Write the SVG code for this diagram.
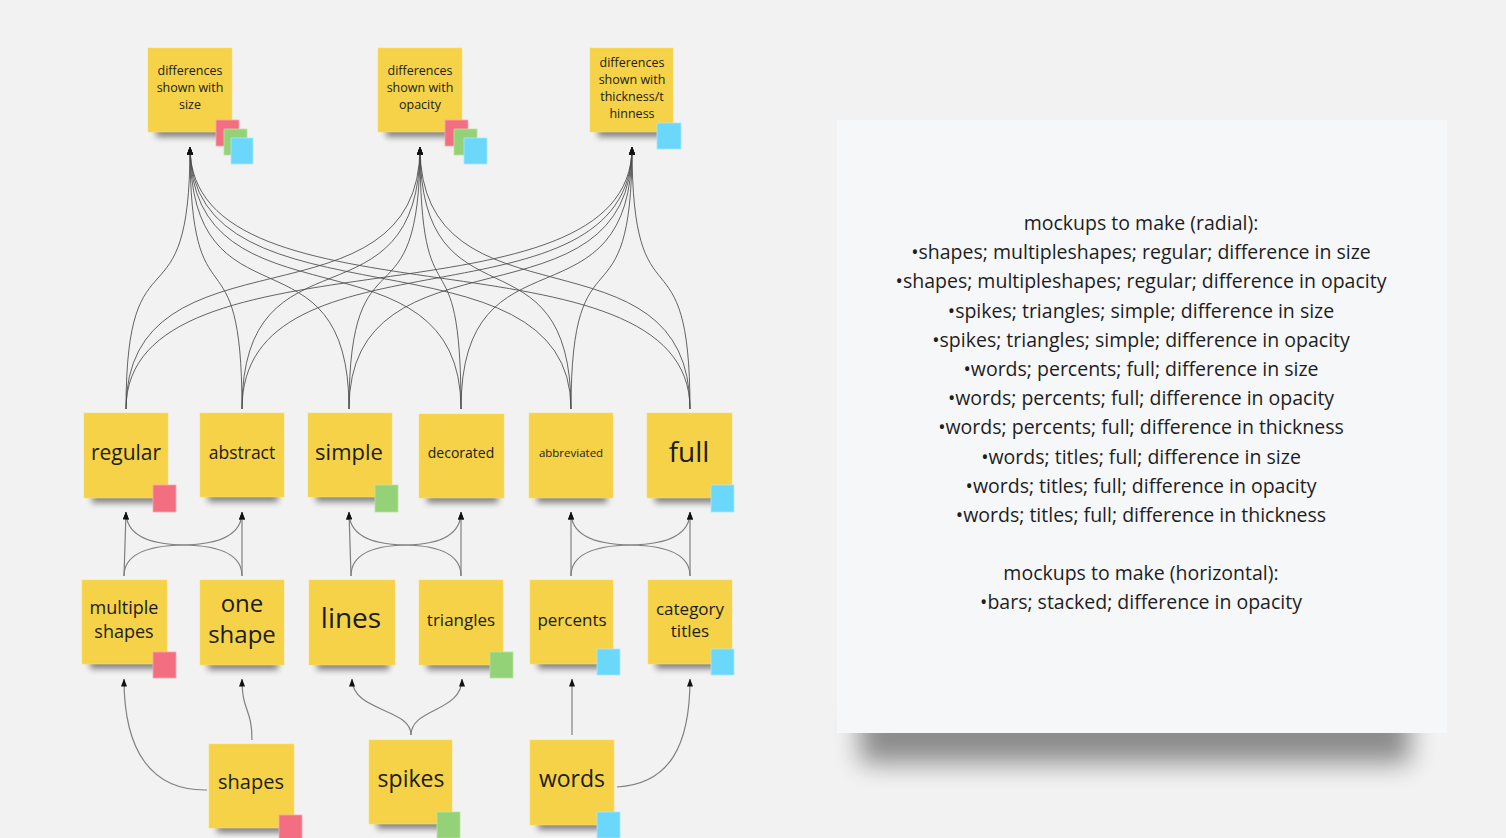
<svg xmlns="http://www.w3.org/2000/svg" width="1506" height="838" viewBox="0 0 1506 838">
<defs>
<style>
.note{fill:#f5d247;stroke:#f7dc6e;stroke-width:0.6}
.sh{fill:#000;opacity:0.45;filter:url(#blur)}
.t{font-family:"Open Sans","Noto Sans","DejaVu Sans",sans-serif;fill:#1c1c1c;text-anchor:middle}
.pink{fill:#f36e80;stroke:#f9a8b2;stroke-width:0.8}
.green{fill:#93d276;stroke:#b9e3a4;stroke-width:0.8}
.blue{fill:#6bd8fb;stroke:#a8e8fc;stroke-width:0.8}
.c1{fill:none;stroke:#4a4a4a;stroke-width:1;stroke-opacity:0.85}
.c2{fill:none;stroke:#808080;stroke-width:1.2}
.panel-t{font-family:"Open Sans","Noto Sans","DejaVu Sans",sans-serif;font-size:19.5px;fill:#1e1e1e;text-anchor:middle}
</style>
<filter id="blur" x="-20%" y="-50%" width="140%" height="200%"><feGaussianBlur stdDeviation="3"/></filter>
<filter id="pblur" x="-10%" y="-60%" width="120%" height="220%"><feGaussianBlur stdDeviation="13"/></filter>
<marker id="arr" markerUnits="userSpaceOnUse" markerWidth="8" markerHeight="6" refX="7.5" refY="3" orient="auto"><path d="M0,0 L8,3 L0,6 z" fill="#111"/></marker>
</defs>
<rect width="1506" height="838" fill="#f2f2f2"/>

<g id="connectors">
<g marker-end="url(#arr)" class="c1">
<path d="M126 409 C126 219,190 337,190 147"/>
<path d="M126 409 C126 219,420 337,420 147"/>
<path d="M126 409 C126 219,632 337,632 147"/>
<path d="M242 409 C242 219,190 337,190 147"/>
<path d="M242 409 C242 219,420 337,420 147"/>
<path d="M242 409 C242 219,632 337,632 147"/>
<path d="M349 409 C349 219,190 337,190 147"/>
<path d="M349 409 C349 219,420 337,420 147"/>
<path d="M349 409 C349 219,632 337,632 147"/>
<path d="M461 409 C461 219,190 337,190 147"/>
<path d="M461 409 C461 219,420 337,420 147"/>
<path d="M461 409 C461 219,632 337,632 147"/>
<path d="M571 409 C571 219,190 337,190 147"/>
<path d="M571 409 C571 219,420 337,420 147"/>
<path d="M571 409 C571 219,632 337,632 147"/>
<path d="M690 409 C690 219,190 337,190 147"/>
<path d="M690 409 C690 219,420 337,420 147"/>
<path d="M690 409 C690 219,632 337,632 147"/>
</g>
<g marker-end="url(#arr)" class="c2">
<path d="M124 576 L126 512"/>
<path d="M124 576 Q124 546 183 545 Q242 544 242 512"/>
<path d="M242 576 L242 512"/>
<path d="M242 576 Q242 546 184 545 Q126 544 126 512"/>
<path d="M351 576 L349 512"/>
<path d="M351 576 Q351 546 406 545 Q461 544 461 512"/>
<path d="M461 576 L461 512"/>
<path d="M461 576 Q461 546 405 545 Q349 544 349 512"/>
<path d="M571 576 L571 512"/>
<path d="M571 576 Q571 546 630.5 545 Q690 544 690 512"/>
<path d="M690 576 L690 512"/>
<path d="M690 576 Q690 546 630.5 545 Q571 544 571 512"/>
<path d="M207 790 C152 791,124 752,124 679"/>
<path d="M252 740 C252 708,242 712,242 679"/>
<path d="M411 735 C411 708,352 712,352 679"/>
<path d="M411 735 C411 708,462 712,462 679"/>
<path d="M572 735 L572 679"/>
<path d="M617 787 C670 784,690 745,690 679"/>
</g>
</g>

<g id="note-size">
<rect class="sh" x="156" y="120" width="70" height="17"/>
<rect class="note" x="148" y="48" width="84" height="84"/>
<text class="t" font-size="12.5" x="190" y="75">differences</text>
<text class="t" font-size="12.5" x="190" y="92">shown with</text>
<text class="t" font-size="12.5" x="190" y="109">size</text>
<rect class="pink" x="216" y="120" width="23" height="26"/>
<rect class="green" x="224" y="129" width="23" height="26"/>
<rect class="blue" x="231" y="138" width="22" height="26"/>
</g>
<g id="note-opacity">
<rect class="sh" x="386" y="120" width="70" height="17"/>
<rect class="note" x="378" y="48" width="84" height="84"/>
<text class="t" font-size="12.5" x="420" y="75">differences</text>
<text class="t" font-size="12.5" x="420" y="92">shown with</text>
<text class="t" font-size="12.5" x="420" y="109">opacity</text>
<rect class="pink" x="445" y="120" width="23" height="26"/>
<rect class="green" x="454" y="129" width="23" height="26"/>
<rect class="blue" x="464" y="138" width="23" height="26"/>
</g>
<g id="note-thickness">
<rect class="sh" x="598" y="120" width="70" height="17"/>
<rect class="note" x="590" y="48" width="83" height="84"/>
<text class="t" font-size="12.5" x="632" y="67">differences</text>
<text class="t" font-size="12.5" x="632" y="84">shown with</text>
<text class="t" font-size="12.5" x="632" y="101">thickness/t</text>
<text class="t" font-size="12.5" x="632" y="118">hinness</text>
<rect class="blue" x="657" y="123" width="24" height="26"/>
</g>

<g id="node-regular">
<rect class="sh" x="92" y="486" width="70" height="17"/>
<rect class="note" x="84" y="413" width="84" height="85"/>
<text class="t" font-size="21" x="126" y="460">regular</text>
<rect class="pink" x="153" y="485" width="23" height="27"/>
</g>
<g id="node-abstract">
<rect class="sh" x="208" y="485" width="70" height="17"/>
<rect class="note" x="200" y="413" width="84" height="84"/>
<text class="t" font-size="17.5" x="242" y="459">abstract</text>
</g>
<g id="node-simple">
<rect class="sh" x="316" y="485" width="70" height="17"/>
<rect class="note" x="308" y="413" width="84" height="84"/>
<text class="t" font-size="22" x="349" y="460">simple</text>
<rect class="green" x="375" y="485" width="23" height="27"/>
</g>
<g id="node-decorated">
<rect class="sh" x="427" y="486" width="71" height="17"/>
<rect class="note" x="419" y="414" width="85" height="84"/>
<text class="t" font-size="14" x="461" y="458">decorated</text>
</g>
<g id="node-abbreviated">
<rect class="sh" x="537" y="486" width="70" height="17"/>
<rect class="note" x="529" y="413" width="84" height="85"/>
<text class="t" font-size="11.5" x="571" y="457">abbreviated</text>
</g>
<g id="node-full">
<rect class="sh" x="655" y="486" width="71" height="17"/>
<rect class="note" x="647" y="413" width="85" height="85"/>
<text class="t" font-size="28" x="689" y="462">full</text>
<rect class="blue" x="711" y="485" width="23" height="27"/>
</g>

<g id="node-multiple-shapes">
<rect class="sh" x="90" y="652" width="71" height="17"/>
<rect class="note" x="82" y="580" width="85" height="84"/>
<text class="t" font-size="18" x="124" y="614">multiple</text>
<text class="t" font-size="18" x="124" y="638">shapes</text>
<rect class="pink" x="153" y="652" width="23" height="26"/>
</g>
<g id="node-one-shape">
<rect class="sh" x="208" y="653" width="70" height="17"/>
<rect class="note" x="200" y="580" width="84" height="85"/>
<text class="t" font-size="24" x="242" y="612">one</text>
<text class="t" font-size="24" x="242" y="643">shape</text>
</g>
<g id="node-lines">
<rect class="sh" x="317" y="653" width="72" height="17"/>
<rect class="note" x="309" y="580" width="86" height="85"/>
<text class="t" font-size="28" x="351" y="628">lines</text>
</g>
<g id="node-triangles">
<rect class="sh" x="427" y="653" width="70" height="17"/>
<rect class="note" x="419" y="580" width="84" height="85"/>
<text class="t" font-size="17" x="461" y="626">triangles</text>
<rect class="green" x="490" y="652" width="23" height="26"/>
</g>
<g id="node-percents">
<rect class="sh" x="538" y="652" width="69" height="17"/>
<rect class="note" x="530" y="580" width="83" height="84"/>
<text class="t" font-size="17" x="572" y="626">percents</text>
<rect class="blue" x="597" y="649" width="23" height="26"/>
</g>
<g id="node-category-titles">
<rect class="sh" x="656" y="652" width="70" height="17"/>
<rect class="note" x="648" y="580" width="84" height="84"/>
<text class="t" font-size="17" x="690" y="615">category</text>
<text class="t" font-size="17" x="690" y="637">titles</text>
<rect class="blue" x="711" y="649" width="23" height="26"/>
</g>

<g id="node-shapes">
<rect class="sh" x="217" y="816" width="71" height="17"/>
<rect class="note" x="209" y="744" width="85" height="84"/>
<text class="t" font-size="20" x="251" y="789">shapes</text>
<rect class="pink" x="279" y="815" width="23" height="26"/>
</g>
<g id="node-spikes">
<rect class="sh" x="377" y="812" width="69" height="17"/>
<rect class="note" x="369" y="740" width="83" height="84"/>
<text class="t" font-size="23" x="411" y="787">spikes</text>
<rect class="green" x="437" y="812" width="23" height="26"/>
</g>
<g id="node-words">
<rect class="sh" x="538" y="813" width="70" height="17"/>
<rect class="note" x="530" y="740" width="84" height="85"/>
<text class="t" font-size="23" x="572" y="787">words</text>
<rect class="blue" x="597" y="812" width="23" height="26"/>
</g>

<g id="text-panel">
<rect x="860" y="708" width="550" height="55" fill="#000" opacity="0.42" filter="url(#pblur)"/>
<rect x="837" y="120" width="610" height="613" fill="#f6f7f9"/>
<text class="panel-t" x="1141" y="230">mockups to make (radial):</text>
<text class="panel-t" x="1141" y="259">•shapes; multipleshapes; regular; difference in size</text>
<text class="panel-t" x="1141" y="288">•shapes; multipleshapes; regular; difference in opacity</text>
<text class="panel-t" x="1141" y="318">•spikes; triangles; simple; difference in size</text>
<text class="panel-t" x="1141" y="347">•spikes; triangles; simple; difference in opacity</text>
<text class="panel-t" x="1141" y="376">•words; percents; full; difference in size</text>
<text class="panel-t" x="1141" y="405">•words; percents; full; difference in opacity</text>
<text class="panel-t" x="1141" y="434">•words; percents; full; difference in thickness</text>
<text class="panel-t" x="1141" y="464">•words; titles; full; difference in size</text>
<text class="panel-t" x="1141" y="493">•words; titles; full; difference in opacity</text>
<text class="panel-t" x="1141" y="522">•words; titles; full; difference in thickness</text>
<text class="panel-t" x="1141" y="580">mockups to make (horizontal):</text>
<text class="panel-t" x="1141" y="609">•bars; stacked; difference in opacity</text>
</g>
</svg>
